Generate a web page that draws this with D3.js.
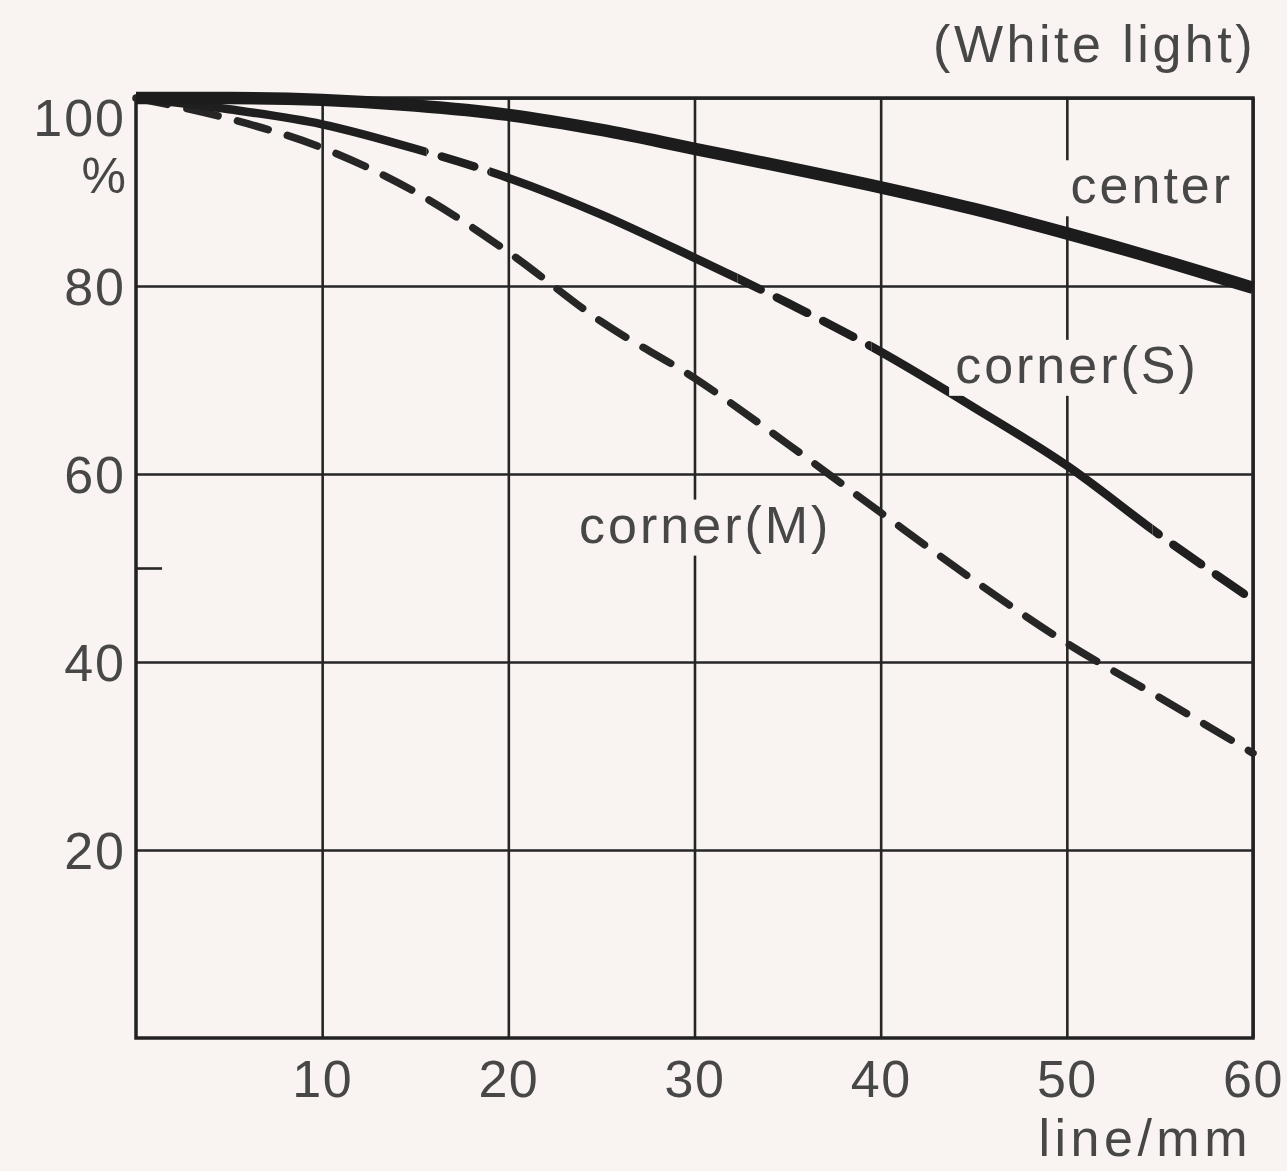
<!DOCTYPE html>
<html>
<head>
<meta charset="utf-8">
<script src="https://cdn.jsdelivr.net/npm/d3@7"></script>
<style>
  html, body { margin: 0; padding: 0; background: #f9f4f1; }
  svg { display: block; }
  text { font-family: "Liberation Sans", Arial, sans-serif; fill: #474747; }
</style>
</head>
<body>
<div id="chart"></div>
<script>
// spatial frequency (line/mm) and contrast (%)
const freq = [0, 5, 10, 15, 20, 25, 30, 35, 40, 45, 50, 55, 60];
const center = [100, 100, 99.8, 99.2, 98.2, 96.6, 94.6, 92.6, 90.5, 88.2, 85.6, 82.8, 79.8];
const cornerS = [100, 98.8, 97.2, 94.6, 91.5, 87.6, 83.0, 78.2, 73.0, 67.1, 60.9, 53.5, 46.6];
const cornerM = [100, 97.8, 94.7, 90.0, 83.6, 76.2, 70.2, 63.2, 55.9, 48.7, 42.0, 36.2, 30.3];

const xTicks = [10, 20, 30, 40, 50, 60];
const yTicks = [20, 40, 60, 80, 100];

// parts of the corner(S) line that are printed broken (in line/mm)
const sDashed = [[15.6, 19.0], [32.3, 39.5], [54.6, 61]];

const width = 1287, height = 1171;
const margin = { left: 136, right: 34, top: 98, bottom: 133 };
const plotW = width - margin.left - margin.right;
const plotH = height - margin.top - margin.bottom;

const svg = d3.select("#chart").append("svg")
    .attr("width", width)
    .attr("height", height);

const x = d3.scaleLinear().domain([0, 60]).range([0, plotW]);
const y = d3.scaleLinear().domain([0, 100]).range([plotH, 0]);

const g = svg.append("g").attr("transform", `translate(${margin.left},${margin.top})`);

// grid via axes
const xAxis = g.append("g")
    .attr("transform", `translate(0,${plotH})`)
    .call(d3.axisBottom(x).tickValues(xTicks).tickSize(-plotH).tickPadding(20).tickFormat(d3.format("d")));
xAxis.select(".domain").remove();
xAxis.selectAll("line").attr("stroke", "#262626").attr("stroke-width", 2.6);
xAxis.selectAll("text").attr("font-size", 52).attr("letter-spacing", 1.5).attr("dy", "0.75em");

const yAxis = g.append("g")
    .call(d3.axisLeft(y).tickValues(yTicks).tickSize(-plotW).tickPadding(10).tickFormat(d3.format("d")));
yAxis.select(".domain").remove();
yAxis.selectAll("line").attr("stroke", "#262626").attr("stroke-width", 2.6);
yAxis.selectAll("text").attr("font-size", 52).attr("letter-spacing", 2)
    .attr("dy", d => d === 100 ? "0.72em" : "0.36em");

// small tick at 50 %
g.append("g")
    .call(d3.axisLeft(y).tickValues([50]).tickSize(-26).tickFormat(""))
    .call(a => a.select(".domain").remove())
    .selectAll("line").attr("stroke", "#262626").attr("stroke-width", 2.6);

// frame
g.append("rect")
    .attr("width", plotW).attr("height", plotH)
    .attr("fill", "none").attr("stroke", "#222").attr("stroke-width", 3.5);

// clip regions for the corner(S) solid / broken parts
const defs = svg.append("defs");
const solidRanges = [];
let start = -1;
sDashed.forEach(r => { solidRanges.push([start, r[0]]); start = r[1]; });
solidRanges.push([start, 61]);

function makeClip(id, ranges) {
    defs.append("clipPath").attr("id", id)
        .selectAll("rect").data(ranges).join("rect")
        .attr("x", d => x(d[0])).attr("width", d => x(d[1]) - x(d[0]))
        .attr("y", -20).attr("height", plotH + 40);
}
makeClip("solidClip", solidRanges);
makeClip("dashClip", sDashed);

const line = d3.line()
    .x(d => x(d[0]))
    .y(d => y(d[1]))
    .curve(d3.curveMonotoneX);

const pts = vals => freq.map((f, i) => [f, vals[i]]);

// corner(M): dashed
g.append("path")
    .attr("d", line(pts(cornerM)))
    .attr("fill", "none").attr("stroke", "#262626")
    .attr("stroke-width", 7.5).attr("stroke-linecap", "round")
    .attr("stroke-dasharray", "32,20");

// corner(S): solid with broken stretches
g.append("path")
    .attr("d", line(pts(cornerS)))
    .attr("clip-path", "url(#solidClip)")
    .attr("fill", "none").attr("stroke", "#1f1f1f")
    .attr("stroke-width", 8.5);
g.append("path")
    .attr("d", line(pts(cornerS)))
    .attr("clip-path", "url(#dashClip)")
    .attr("fill", "none").attr("stroke", "#1f1f1f")
    .attr("stroke-width", 8.5).attr("stroke-linecap", "round")
    .attr("stroke-dasharray", "34,18");

// center: heavy solid
g.append("path")
    .attr("d", line(pts(center)))
    .attr("fill", "none").attr("stroke", "#1c1c1c")
    .attr("stroke-width", 12.5);

// curve labels (with paper-coloured backing that breaks the grid)
const labels = [
    { text: "center", fx: 50.2, fy: 88.8 },
    { text: "corner(S)", fx: 44.0, fy: 69.7 },
    { text: "corner(M)", fx: 23.8, fy: 52.7 }
];
labels.forEach(l => {
    const t = g.append("text")
        .attr("x", x(l.fx)).attr("y", y(l.fy))
        .attr("font-size", 52).attr("letter-spacing", 3)
        .text(l.text);
    const b = t.node().getBBox();
    g.insert("rect", () => t.node())
        .attr("x", b.x - 6).attr("y", b.y + 4)
        .attr("width", b.width + 12).attr("height", b.height - 2)
        .attr("fill", "#f9f4f1");
});

// percent sign under 100
g.append("text")
    .attr("x", -10).attr("y", y(100) + 95)
    .attr("text-anchor", "end").attr("font-size", 50)
    .text("%");

svg.append("text")
    .attr("x", 1256).attr("y", 62)
    .attr("text-anchor", "end").attr("font-size", 52).attr("letter-spacing", 3.5)
    .text("(White light)");

svg.append("text")
    .attr("x", 1252).attr("y", 1156)
    .attr("text-anchor", "end").attr("font-size", 52).attr("letter-spacing", 4.5)
    .text("line/mm");
</script>
</body>
</html>
